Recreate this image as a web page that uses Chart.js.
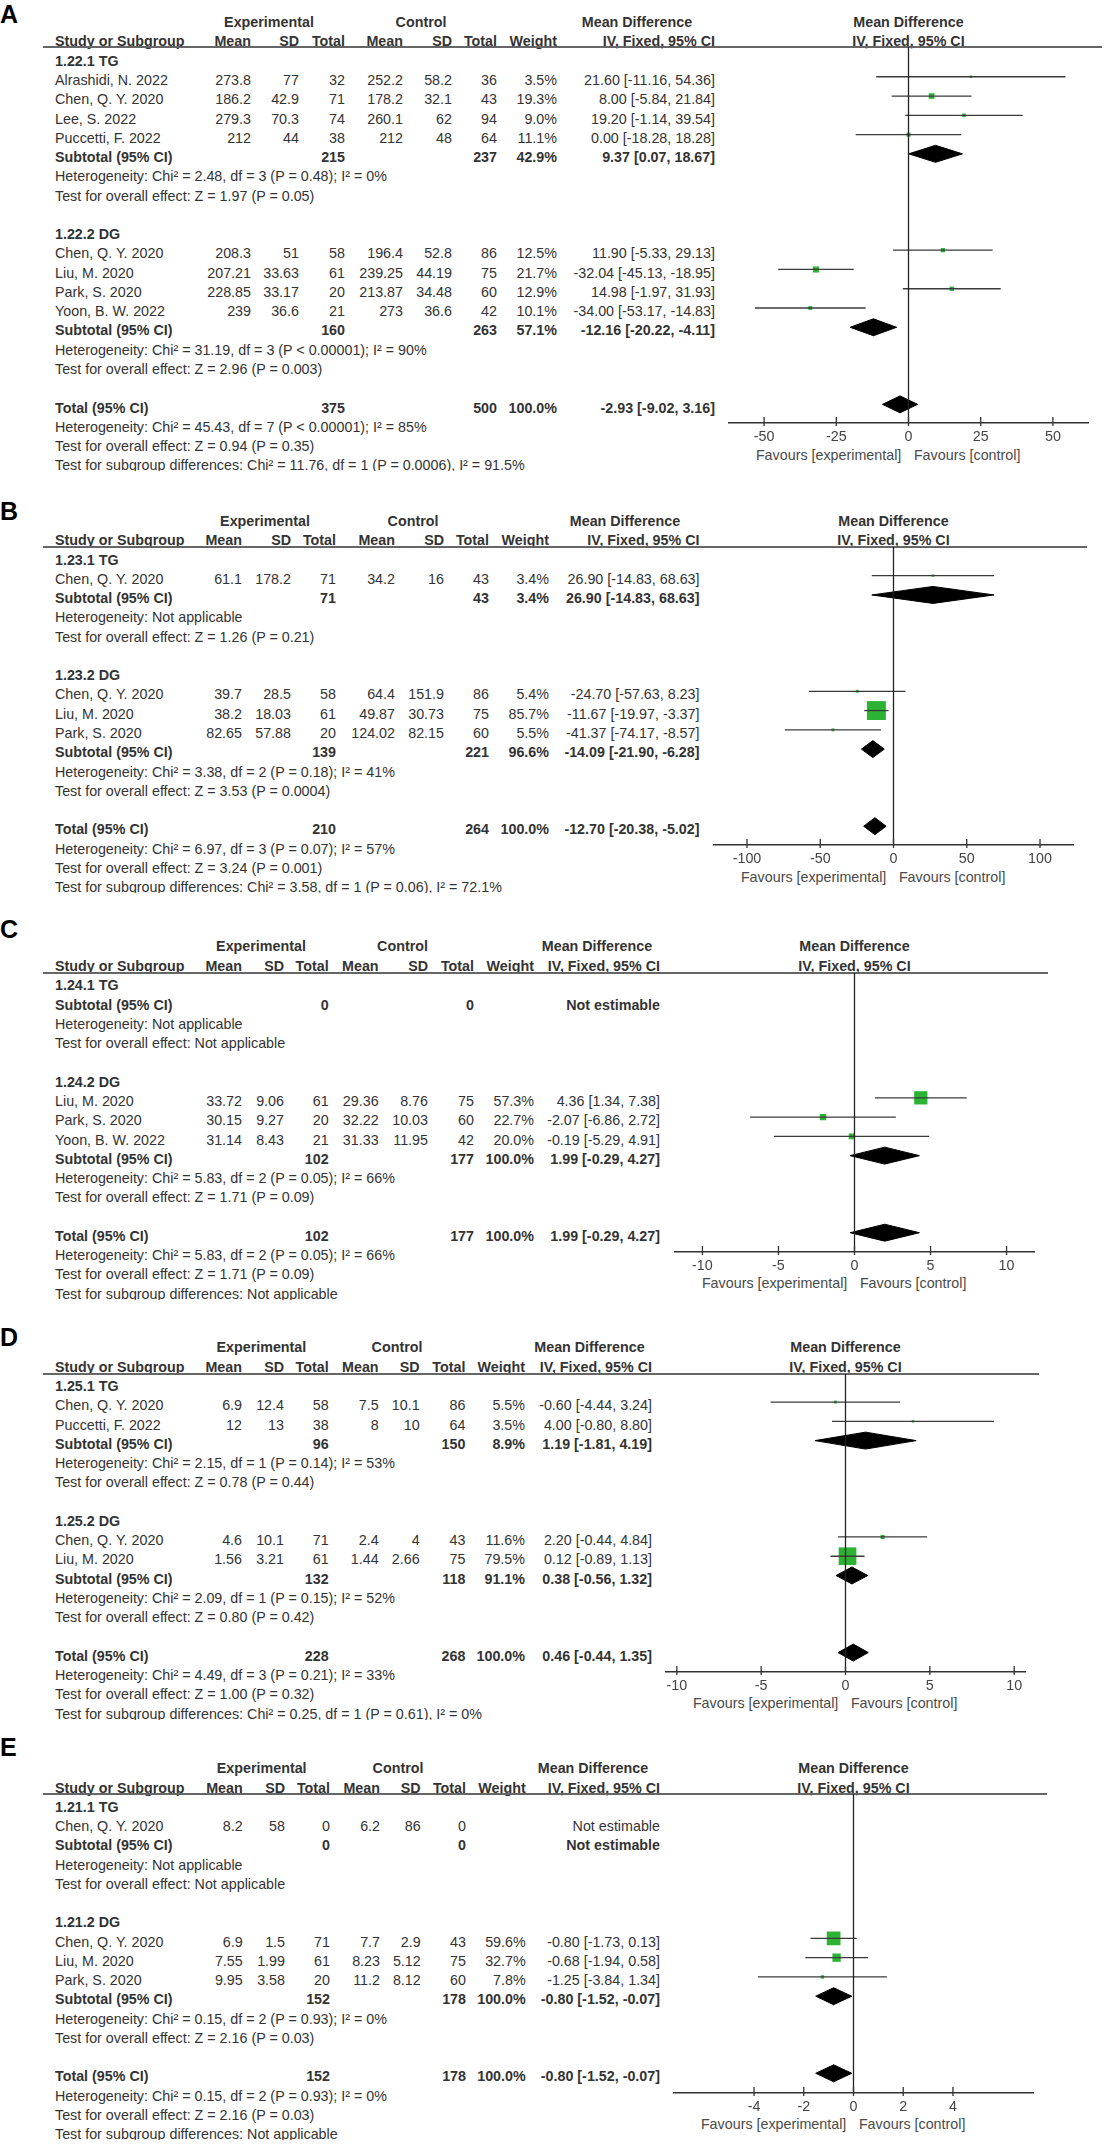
<!DOCTYPE html>
<html>
<head>
<meta charset="utf-8">
<script src="https://cdn.jsdelivr.net/npm/chart.js@4.4.1/dist/chart.umd.min.js"></script>
<style>
html, body { margin: 0; padding: 0; background: #fff; }
#page { position: relative; width: 1106px; height: 2145px; overflow: hidden; background: #fff;
        font-family: 'Liberation Sans', Arial, sans-serif; color: #333; }
#page span { position: absolute; font-size: 14.3px; line-height: 14.3px; white-space: pre; }
#page span.b { font-weight: bold; }
#page span.fv { color: #4a4a4a; }
#page span.clip { height: 13px; overflow: hidden; }
#page span.lbl { font-size: 25px; line-height: 25px; font-weight: bold; color: #000; }
#page .rule { position: absolute; height: 2px; background: #666; }
#page canvas { position: absolute; }
</style>
</head>
<body>
<div id="page"></div>
<script>
// ---------- A ----------
const A_rows = [
  ['g', '1.22.1 TG'],
  ['s', 'Alrashidi, N. 2022', '273.8', '77', '32', '252.2', '58.2', '36', '3.5%', '21.60 [-11.16, 54.36]'],
  ['s', 'Chen, Q. Y. 2020', '186.2', '42.9', '71', '178.2', '32.1', '43', '19.3%', '8.00 [-5.84, 21.84]'],
  ['s', 'Lee, S. 2022', '279.3', '70.3', '74', '260.1', '62', '94', '9.0%', '19.20 [-1.14, 39.54]'],
  ['s', 'Puccetti, F. 2022', '212', '44', '38', '212', '48', '64', '11.1%', '0.00 [-18.28, 18.28]'],
  ['t', 'Subtotal (95% CI)', '', '', '215', '', '', '237', '42.9%', '9.37 [0.07, 18.67]'],
  ['n', 'Heterogeneity: Chi² = 2.48, df = 3 (P = 0.48); I² = 0%'],
  ['n', 'Test for overall effect: Z = 1.97 (P = 0.05)'],
  [''],
  ['g', '1.22.2 DG'],
  ['s', 'Chen, Q. Y. 2020', '208.3', '51', '58', '196.4', '52.8', '86', '12.5%', '11.90 [-5.33, 29.13]'],
  ['s', 'Liu, M. 2020', '207.21', '33.63', '61', '239.25', '44.19', '75', '21.7%', '-32.04 [-45.13, -18.95]'],
  ['s', 'Park, S. 2020', '228.85', '33.17', '20', '213.87', '34.48', '60', '12.9%', '14.98 [-1.97, 31.93]'],
  ['s', 'Yoon, B. W. 2022', '239', '36.6', '21', '273', '36.6', '42', '10.1%', '-34.00 [-53.17, -14.83]'],
  ['t', 'Subtotal (95% CI)', '', '', '160', '', '', '263', '57.1%', '-12.16 [-20.22, -4.11]'],
  ['n', 'Heterogeneity: Chi² = 31.19, df = 3 (P < 0.00001); I² = 90%'],
  ['n', 'Test for overall effect: Z = 2.96 (P = 0.003)'],
  [''],
  ['t', 'Total (95% CI)', '', '', '375', '', '', '500', '100.0%', '-2.93 [-9.02, 3.16]'],
  ['n', 'Heterogeneity: Chi² = 45.43, df = 7 (P < 0.00001); I² = 85%'],
  ['n', 'Test for overall effect: Z = 0.94 (P = 0.35)'],
  ['x', 'Test for subgroup differences: Chi² = 11.76, df = 1 (P = 0.0006), I² = 91.5%']
];
const A_studyRow = [1, 2, 3, 4, 10, 11, 12, 13];
const A_md = [21.60, 8.00, 19.20, 0.00, 11.90, -32.04, 14.98, -34.00];
const A_lo = [-11.16, -5.84, -1.14, -18.28, -5.33, -45.13, -1.97, -53.17];
const A_hi = [54.36, 21.84, 39.54, 18.28, 29.13, -18.95, 31.93, -14.83];
const A_weight = [3.5, 19.3, 9.0, 11.1, 12.5, 21.7, 12.9, 10.1];
const A_sumRow = [5, 14, 18];
const A_sumMd = [9.37, -12.16, -2.93];
const A_sumLo = [0.07, -20.22, -9.02];
const A_sumHi = [18.67, -4.11, 3.16];
const A_ticks = [-50, -25, 0, 25, 50];

// ---------- B ----------
const B_rows = [
  ['g', '1.23.1 TG'],
  ['s', 'Chen, Q. Y. 2020', '61.1', '178.2', '71', '34.2', '16', '43', '3.4%', '26.90 [-14.83, 68.63]'],
  ['t', 'Subtotal (95% CI)', '', '', '71', '', '', '43', '3.4%', '26.90 [-14.83, 68.63]'],
  ['n', 'Heterogeneity: Not applicable'],
  ['n', 'Test for overall effect: Z = 1.26 (P = 0.21)'],
  [''],
  ['g', '1.23.2 DG'],
  ['s', 'Chen, Q. Y. 2020', '39.7', '28.5', '58', '64.4', '151.9', '86', '5.4%', '-24.70 [-57.63, 8.23]'],
  ['s', 'Liu, M. 2020', '38.2', '18.03', '61', '49.87', '30.73', '75', '85.7%', '-11.67 [-19.97, -3.37]'],
  ['s', 'Park, S. 2020', '82.65', '57.88', '20', '124.02', '82.15', '60', '5.5%', '-41.37 [-74.17, -8.57]'],
  ['t', 'Subtotal (95% CI)', '', '', '139', '', '', '221', '96.6%', '-14.09 [-21.90, -6.28]'],
  ['n', 'Heterogeneity: Chi² = 3.38, df = 2 (P = 0.18); I² = 41%'],
  ['n', 'Test for overall effect: Z = 3.53 (P = 0.0004)'],
  [''],
  ['t', 'Total (95% CI)', '', '', '210', '', '', '264', '100.0%', '-12.70 [-20.38, -5.02]'],
  ['n', 'Heterogeneity: Chi² = 6.97, df = 3 (P = 0.07); I² = 57%'],
  ['n', 'Test for overall effect: Z = 3.24 (P = 0.001)'],
  ['x', 'Test for subgroup differences: Chi² = 3.58, df = 1 (P = 0.06), I² = 72.1%']
];
const B_studyRow = [1, 7, 8, 9];
const B_md = [26.90, -24.70, -11.67, -41.37];
const B_lo = [-14.83, -57.63, -19.97, -74.17];
const B_hi = [68.63, 8.23, -3.37, -8.57];
const B_weight = [3.4, 5.4, 85.7, 5.5];
const B_sumRow = [2, 10, 14];
const B_sumMd = [26.90, -14.09, -12.70];
const B_sumLo = [-14.83, -21.90, -20.38];
const B_sumHi = [68.63, -6.28, -5.02];
const B_ticks = [-100, -50, 0, 50, 100];

// ---------- C ----------
const C_rows = [
  ['g', '1.24.1 TG'],
  ['t', 'Subtotal (95% CI)', '', '', '0', '', '', '0', '', 'Not estimable'],
  ['n', 'Heterogeneity: Not applicable'],
  ['n', 'Test for overall effect: Not applicable'],
  [''],
  ['g', '1.24.2 DG'],
  ['s', 'Liu, M. 2020', '33.72', '9.06', '61', '29.36', '8.76', '75', '57.3%', '4.36 [1.34, 7.38]'],
  ['s', 'Park, S. 2020', '30.15', '9.27', '20', '32.22', '10.03', '60', '22.7%', '-2.07 [-6.86, 2.72]'],
  ['s', 'Yoon, B. W. 2022', '31.14', '8.43', '21', '31.33', '11.95', '42', '20.0%', '-0.19 [-5.29, 4.91]'],
  ['t', 'Subtotal (95% CI)', '', '', '102', '', '', '177', '100.0%', '1.99 [-0.29, 4.27]'],
  ['n', 'Heterogeneity: Chi² = 5.83, df = 2 (P = 0.05); I² = 66%'],
  ['n', 'Test for overall effect: Z = 1.71 (P = 0.09)'],
  [''],
  ['t', 'Total (95% CI)', '', '', '102', '', '', '177', '100.0%', '1.99 [-0.29, 4.27]'],
  ['n', 'Heterogeneity: Chi² = 5.83, df = 2 (P = 0.05); I² = 66%'],
  ['n', 'Test for overall effect: Z = 1.71 (P = 0.09)'],
  ['x', 'Test for subgroup differences: Not applicable']
];
const C_studyRow = [6, 7, 8];
const C_md = [4.36, -2.07, -0.19];
const C_lo = [1.34, -6.86, -5.29];
const C_hi = [7.38, 2.72, 4.91];
const C_weight = [57.3, 22.7, 20.0];
const C_sumRow = [9, 13];
const C_sumMd = [1.99, 1.99];
const C_sumLo = [-0.29, -0.29];
const C_sumHi = [4.27, 4.27];
const C_ticks = [-10, -5, 0, 5, 10];

// ---------- D ----------
const D_rows = [
  ['g', '1.25.1 TG'],
  ['s', 'Chen, Q. Y. 2020', '6.9', '12.4', '58', '7.5', '10.1', '86', '5.5%', '-0.60 [-4.44, 3.24]'],
  ['s', 'Puccetti, F. 2022', '12', '13', '38', '8', '10', '64', '3.5%', '4.00 [-0.80, 8.80]'],
  ['t', 'Subtotal (95% CI)', '', '', '96', '', '', '150', '8.9%', '1.19 [-1.81, 4.19]'],
  ['n', 'Heterogeneity: Chi² = 2.15, df = 1 (P = 0.14); I² = 53%'],
  ['n', 'Test for overall effect: Z = 0.78 (P = 0.44)'],
  [''],
  ['g', '1.25.2 DG'],
  ['s', 'Chen, Q. Y. 2020', '4.6', '10.1', '71', '2.4', '4', '43', '11.6%', '2.20 [-0.44, 4.84]'],
  ['s', 'Liu, M. 2020', '1.56', '3.21', '61', '1.44', '2.66', '75', '79.5%', '0.12 [-0.89, 1.13]'],
  ['t', 'Subtotal (95% CI)', '', '', '132', '', '', '118', '91.1%', '0.38 [-0.56, 1.32]'],
  ['n', 'Heterogeneity: Chi² = 2.09, df = 1 (P = 0.15); I² = 52%'],
  ['n', 'Test for overall effect: Z = 0.80 (P = 0.42)'],
  [''],
  ['t', 'Total (95% CI)', '', '', '228', '', '', '268', '100.0%', '0.46 [-0.44, 1.35]'],
  ['n', 'Heterogeneity: Chi² = 4.49, df = 3 (P = 0.21); I² = 33%'],
  ['n', 'Test for overall effect: Z = 1.00 (P = 0.32)'],
  ['x', 'Test for subgroup differences: Chi² = 0.25, df = 1 (P = 0.61), I² = 0%']
];
const D_studyRow = [1, 2, 8, 9];
const D_md = [-0.60, 4.00, 2.20, 0.12];
const D_lo = [-4.44, -0.80, -0.44, -0.89];
const D_hi = [3.24, 8.80, 4.84, 1.13];
const D_weight = [5.5, 3.5, 11.6, 79.5];
const D_sumRow = [3, 10, 14];
const D_sumMd = [1.19, 0.38, 0.46];
const D_sumLo = [-1.81, -0.56, -0.44];
const D_sumHi = [4.19, 1.32, 1.35];
const D_ticks = [-10, -5, 0, 5, 10];

// ---------- E ----------
const E_rows = [
  ['g', '1.21.1 TG'],
  ['s', 'Chen, Q. Y. 2020', '8.2', '58', '0', '6.2', '86', '0', '', 'Not estimable'],
  ['t', 'Subtotal (95% CI)', '', '', '0', '', '', '0', '', 'Not estimable'],
  ['n', 'Heterogeneity: Not applicable'],
  ['n', 'Test for overall effect: Not applicable'],
  [''],
  ['g', '1.21.2 DG'],
  ['s', 'Chen, Q. Y. 2020', '6.9', '1.5', '71', '7.7', '2.9', '43', '59.6%', '-0.80 [-1.73, 0.13]'],
  ['s', 'Liu, M. 2020', '7.55', '1.99', '61', '8.23', '5.12', '75', '32.7%', '-0.68 [-1.94, 0.58]'],
  ['s', 'Park, S. 2020', '9.95', '3.58', '20', '11.2', '8.12', '60', '7.8%', '-1.25 [-3.84, 1.34]'],
  ['t', 'Subtotal (95% CI)', '', '', '152', '', '', '178', '100.0%', '-0.80 [-1.52, -0.07]'],
  ['n', 'Heterogeneity: Chi² = 0.15, df = 2 (P = 0.93); I² = 0%'],
  ['n', 'Test for overall effect: Z = 2.16 (P = 0.03)'],
  [''],
  ['t', 'Total (95% CI)', '', '', '152', '', '', '178', '100.0%', '-0.80 [-1.52, -0.07]'],
  ['n', 'Heterogeneity: Chi² = 0.15, df = 2 (P = 0.93); I² = 0%'],
  ['n', 'Test for overall effect: Z = 2.16 (P = 0.03)'],
  ['x', 'Test for subgroup differences: Not applicable']
];
const E_studyRow = [7, 8, 9];
const E_md = [-0.80, -0.68, -1.25];
const E_lo = [-1.73, -1.94, -3.84];
const E_hi = [0.13, 0.58, 1.34];
const E_weight = [59.6, 32.7, 7.8];
const E_sumRow = [10, 14];
const E_sumMd = [-0.80, -0.80];
const E_sumLo = [-1.52, -1.52];
const E_sumHi = [-0.07, -0.07];
const E_ticks = [-4, -2, 0, 2, 4];

const COL_HEADS = ['Mean', 'SD', 'Total', 'Mean', 'SD', 'Total', 'Weight'];

const PAGE_W = 1106;
const PITCH = 19.27;     // row spacing
const MARK_OFF = 3.2;    // marks sit a little above text centre
const HALF = 180.5;      // half length of the x axis line
const BAND = 50;         // room under the axis for tick labels
const DIAMOND_H = 0.44;  // half height of diamonds, in rows
const GREEN = '#2cb334';
const FONT = "'Liberation Sans', Arial, sans-serif";

const LAYOUT = {
  A: { label: 14, exp: 22, hdr: 41, line: 47.3, row0: 60.7, axis: 423, zero: 908.2, range: 62.5,
       cols: [55, 251, 299, 345, 403, 452, 497, 557, 715], expX: 269, ctlX: 421, mdX: 637 },
  B: { label: 510.7, exp: 521.4, hdr: 540.4, line: 547, row0: 559.6, axis: 845.4, zero: 893.8, range: 123.2,
       cols: [55, 242, 291, 336, 395, 444, 489, 549, 699.5], expX: 265, ctlX: 413, mdX: 625 },
  C: { label: 929.3, exp: 946.4, hdr: 966, line: 973, row0: 985.4, axis: 1251.8, zero: 854.4, range: 11.87,
       cols: [55, 242, 284, 328.6, 378.6, 428, 474, 534, 660], expX: 261, ctlX: 402.5, mdX: 597 },
  D: { label: 1337, exp: 1347, hdr: 1366.8, line: 1373.6, row0: 1386, axis: 1671.7, zero: 845.6, range: 10.7,
       cols: [55, 242, 284, 328.6, 378.6, 419.6, 465.4, 525, 652], expX: 261.4, ctlX: 397, mdX: 589.5 },
  E: { label: 1746.7, exp: 1768.3, hdr: 1787.7, line: 1794.3, row0: 1806.7, axis: 2092.7, zero: 853.3, range: 7.26,
       cols: [55, 242.7, 285, 330, 380, 420.7, 466, 525.7, 660], expX: 261.7, ctlX: 398, mdX: 593 }
};

const PANELS = [
  { id: 'A', rows: A_rows, studyRow: A_studyRow, md: A_md, lo: A_lo, hi: A_hi, weight: A_weight,
    sumRow: A_sumRow, sumMd: A_sumMd, sumLo: A_sumLo, sumHi: A_sumHi, ticks: A_ticks },
  { id: 'B', rows: B_rows, studyRow: B_studyRow, md: B_md, lo: B_lo, hi: B_hi, weight: B_weight,
    sumRow: B_sumRow, sumMd: B_sumMd, sumLo: B_sumLo, sumHi: B_sumHi, ticks: B_ticks },
  { id: 'C', rows: C_rows, studyRow: C_studyRow, md: C_md, lo: C_lo, hi: C_hi, weight: C_weight,
    sumRow: C_sumRow, sumMd: C_sumMd, sumLo: C_sumLo, sumHi: C_sumHi, ticks: C_ticks },
  { id: 'D', rows: D_rows, studyRow: D_studyRow, md: D_md, lo: D_lo, hi: D_hi, weight: D_weight,
    sumRow: D_sumRow, sumMd: D_sumMd, sumLo: D_sumLo, sumHi: D_sumHi, ticks: D_ticks },
  { id: 'E', rows: E_rows, studyRow: E_studyRow, md: E_md, lo: E_lo, hi: E_hi, weight: E_weight,
    sumRow: E_sumRow, sumMd: E_sumMd, sumLo: E_sumLo, sumHi: E_sumHi, ticks: E_ticks }
];

const page = document.getElementById('page');

function put(x, y, s, align, cls) {
  const el = document.createElement('span');
  el.textContent = s;
  if (cls) el.className = cls;
  el.style.top = (y - 7) + 'px';
  if (align === 'r') el.style.right = (PAGE_W - x) + 'px';
  else if (align === 'c') { el.style.left = x + 'px'; el.style.transform = 'translateX(-50%)'; }
  else el.style.left = x + 'px';
  page.appendChild(el);
  return el;
}

// short tick marks crossing the axis line
const tickMarks = {
  id: 'tickMarks',
  afterDraw(chart) {
    const xs = chart.scales.x, ctx = chart.ctx, y = chart.chartArea.bottom;
    ctx.save();
    ctx.strokeStyle = '#333';
    ctx.lineWidth = 1.3;
    xs.ticks.forEach(t => {
      const px = xs.getPixelForValue(t.value);
      ctx.beginPath();
      ctx.moveTo(px, y - 6);
      ctx.lineTo(px, y + 3);
      ctx.stroke();
    });
    ctx.restore();
  }
};

function drawPanel(p) {
  const L = LAYOUT[p.id];
  const left = Math.round(L.zero - HALF), top = Math.round(L.line), axis = Math.round(L.axis);
  const zero = left + HALF;

  // panel letter and header block
  const lab = put(0, L.label, p.id, 'l', 'lbl');
  lab.style.top = (L.label - 12.2) + 'px';
  put(L.expX, L.exp, 'Experimental', 'c', 'b');
  put(L.ctlX, L.exp, 'Control', 'c', 'b');
  put(L.mdX, L.exp, 'Mean Difference', 'c', 'b');
  put(zero, L.exp, 'Mean Difference', 'c', 'b');
  put(L.cols[0], L.hdr, 'Study or Subgroup', 'l', 'b');
  COL_HEADS.forEach((h, k) => put(L.cols[k + 1], L.hdr, h, 'r', 'b'));
  put(L.cols[8], L.hdr, 'IV, Fixed, 95% CI', 'r', 'b');
  put(zero, L.hdr, 'IV, Fixed, 95% CI', 'c', 'b');

  const rule = document.createElement('div');
  rule.className = 'rule';
  rule.style.left = '43px';
  rule.style.top = (L.line - 1) + 'px';
  rule.style.width = (zero + HALF + 12.5 - 43) + 'px';
  page.appendChild(rule);

  // table rows
  p.rows.forEach((r, i) => {
    const y = L.row0 + i * PITCH;
    const t = r[0];
    if (t === 'g') put(L.cols[0], y, r[1], 'l', 'b');
    else if (t === 'n') put(L.cols[0], y, r[1], 'l');
    else if (t === 'x') put(L.cols[0], y, r[1], 'l', 'clip');
    else if (t === 's' || t === 't') {
      const cls = t === 't' ? 'b' : '';
      put(L.cols[0], y, r[1], 'l', cls);
      for (let k = 2; k <= 9; k++) if (r[k]) put(L.cols[k - 1], y, r[k], 'r', cls);
    }
  });

  put(zero - 7.2, L.axis + 31.6, 'Favours [experimental]', 'r', 'fv');
  put(zero + 5.4, L.axis + 31.6, 'Favours [control]', 'l', 'fv');

  // forest plot
  const canvas = document.createElement('canvas');
  canvas.width = 2 * HALF;
  canvas.height = axis - top + BAND;
  canvas.style.left = left + 'px';
  canvas.style.top = top + 'px';
  canvas.style.width = canvas.width + 'px';
  canvas.style.height = canvas.height + 'px';
  page.appendChild(canvas);

  const m0 = L.row0 - MARK_OFF;
  const yMin = (top - m0) / PITCH, yMax = (axis - m0) / PITCH;

  const datasets = [];
  datasets.push({
    data: [{ x: 0, y: yMin }, { x: 0, y: yMax }],
    borderColor: '#222', borderWidth: 1.3, pointRadius: 0
  });
  p.studyRow.forEach((r, i) => {
    datasets.push({
      data: [{ x: p.lo[i], y: r }, { x: p.hi[i], y: r }],
      borderColor: '#3a3a3a', borderWidth: 1.3, pointRadius: 0
    });
  });
  datasets.push({
    data: p.studyRow.map((r, i) => ({ x: p.md[i], y: r })),
    showLine: false,
    pointStyle: 'rect',
    pointRadius: p.weight.map(w => (0.2 * w + 1.8) / Math.SQRT2),
    pointBackgroundColor: GREEN,
    pointBorderWidth: 0,
    pointBorderColor: GREEN
  });
  p.sumRow.forEach((r, j) => {
    datasets.push({
      data: [
        { x: p.sumLo[j], y: r },
        { x: p.sumMd[j], y: r - DIAMOND_H },
        { x: p.sumHi[j], y: r },
        { x: p.sumMd[j], y: r + DIAMOND_H },
        { x: p.sumLo[j], y: r }
      ],
      fill: 'shape',
      backgroundColor: '#000', borderColor: '#000', borderWidth: 1,
      pointRadius: 0, tension: 0
    });
  });

  new Chart(canvas.getContext('2d'), {
    type: 'line',
    data: { datasets: datasets },
    options: {
      responsive: false,
      animation: false,
      devicePixelRatio: 1,
      events: [],
      layout: { padding: 0, autoPadding: false },
      plugins: { legend: { display: false }, tooltip: { enabled: false } },
      scales: {
        x: {
          type: 'linear',
          min: -L.range, max: L.range,
          afterBuildTicks: s => { s.ticks = p.ticks.map(v => ({ value: v })); },
          afterFit: s => { s.height = BAND; s.paddingLeft = 0; s.paddingRight = 0; },
          grid: { display: false, drawTicks: false },
          border: { display: true, color: '#333', width: 1.5 },
          ticks: {
            autoSkip: false, maxRotation: 0, padding: 5,
            color: '#444', font: { family: FONT, size: 14.3 },
            callback: v => String(v)
          }
        },
        y: { type: 'linear', display: false, reverse: true, min: yMin, max: yMax }
      }
    },
    plugins: [tickMarks]
  });
}

PANELS.forEach(drawPanel);
</script>
</body>
</html>
